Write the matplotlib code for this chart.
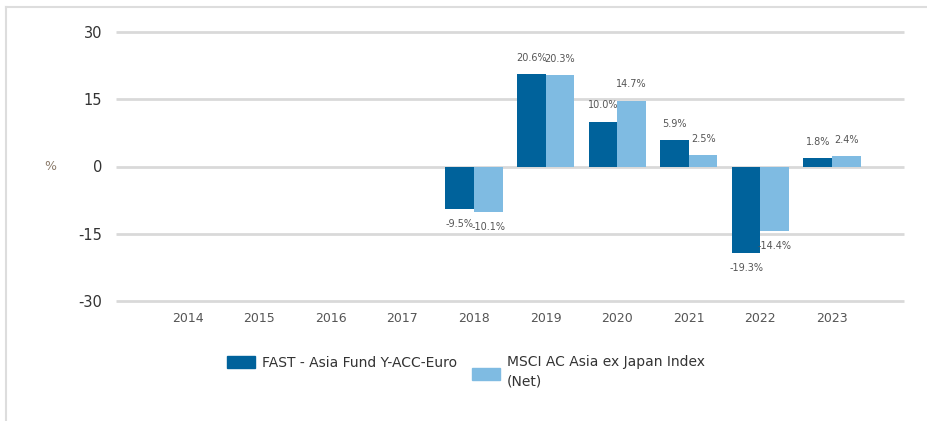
import numpy as np
import matplotlib.pyplot as plt
from matplotlib.patches import Rectangle
from matplotlib.lines import Line2D

years = ['2014', '2015', '2016', '2017', '2018', '2019', '2020', '2021', '2022', '2023']
fund = [np.nan, np.nan, np.nan, np.nan, -9.5, 20.6, 10.0, 5.9, -19.3, 1.8]
index = [np.nan, np.nan, np.nan, np.nan, -10.1, 20.3, 14.7, 2.5, -14.4, 2.4]
series_names = ['FAST - Asia Fund Y-ACC-Euro', 'MSCI AC Asia ex Japan Index\n(Net)']
yticks = [-30, -15, 0, 15, 30]

dark = '#00629b'
light = '#7fbbe2'
grid_c = '#d9d9d9'
txt_c = '#555555'

plt.rcParams['font.family'] = ['DejaVu Sans']
plt.rcParams['axes.unicode_minus'] = False

fig = plt.figure(figsize=(9.28, 4.21), dpi=100)
ax = fig.add_axes([116 / 928, 120 / 421, (903.6 - 116) / 928, (389 - 120) / 421])

x = np.arange(len(years))
w = 0.4
ax.bar(x - w / 2, fund, w, color=dark, zorder=3)
ax.bar(x + w / 2, index, w, color=light, zorder=3)

for xs, vals in [(x - w / 2, fund), (x + w / 2, index)]:
    for xi, v in zip(xs, vals):
        if np.isnan(v):
            continue
        off = 2.5 if v >= 0 else -2.2
        ax.text(xi, v + off, f'{v:.1f}%', ha='center',
                va='bottom' if v >= 0 else 'top', fontsize=7, color=txt_c)

ax.set_xlim(-1, len(years))
ax.set_ylim(-30, 30)
ax.set_yticks(yticks)
ax.set_xticks(x)
ax.set_xticklabels(years)
ax.yaxis.grid(True, color=grid_c, linewidth=2)
for gl in ax.get_ygridlines():
    gl.set_clip_on(False)
    gl.set_solid_capstyle('butt')
ax.set_axisbelow(True)
for s in ax.spines.values():
    s.set_visible(False)
ax.tick_params(axis='y', length=0, pad=10, labelsize=10.5, labelcolor='#333333')
ax.tick_params(axis='x', length=0, pad=8, labelsize=9, labelcolor=txt_c)

fig.text(50 / 928, 1 - 166 / 421, '%', ha='center', va='center', fontsize=9, color='#8a7a6a')

# legend
fig.patches.append(Rectangle((227 / 928, 1 - 368 / 421), 28 / 928, 12 / 421,
                             transform=fig.transFigure, color=dark))
fig.text(262 / 928, 1 - 363 / 421, series_names[0], ha='left', va='center',
         fontsize=10, color='#333333')
fig.patches.append(Rectangle((472 / 928, 1 - 380 / 421), 28 / 928, 12 / 421,
                             transform=fig.transFigure, color=light))
fig.text(507 / 928, 1 - 372 / 421, series_names[1], ha='left', va='center',
         fontsize=10, color='#333333', linespacing=1.5)

# outer frame
fig.lines.append(Line2D([6 / 928, 1], [1 - 7 / 421, 1 - 7 / 421],
                        transform=fig.transFigure, color='#dddddd', linewidth=1.5))
fig.lines.append(Line2D([6 / 928, 6 / 928], [0, 1 - 7 / 421],
                        transform=fig.transFigure, color='#dddddd', linewidth=1.5))

fig.savefig('out.png', dpi=100)
